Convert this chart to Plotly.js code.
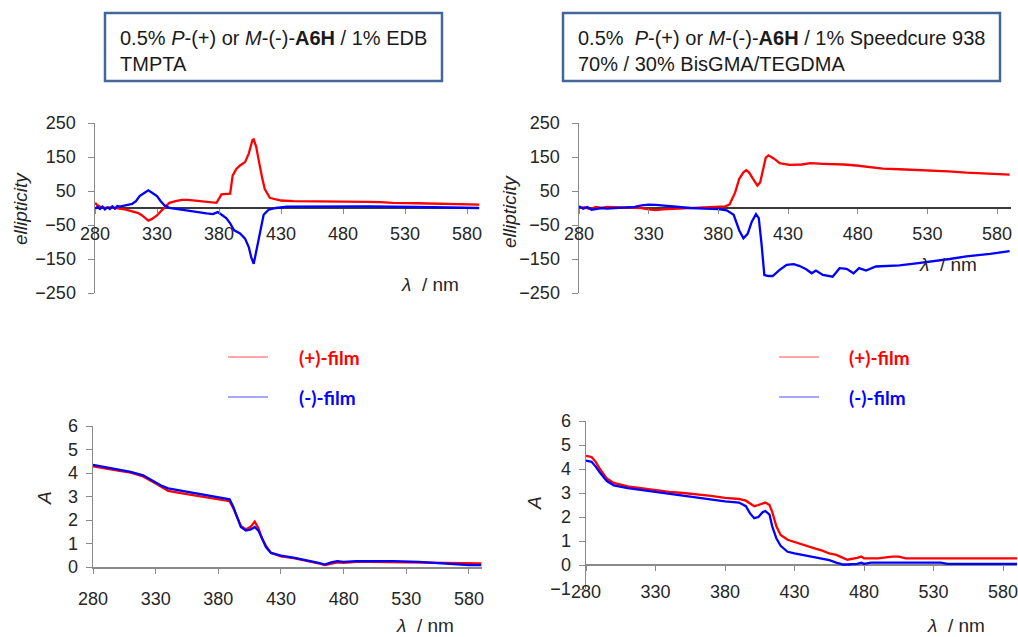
<!DOCTYPE html>
<html>
<head>
<meta charset="utf-8">
<script src="https://cdn.plot.ly/plotly-3.0.1.min.js"></script>
<style>html,body{margin:0;padding:0;background:#fff;}#chart{width:1018px;height:637px;}</style>
</head>
<body>
<div id="chart"></div>
<script>
// ---------------- DATA ----------------
const xTicks = [280, 330, 380, 430, 480, 530, 580];
const cdTicks = [-250, -150, -50, 50, 150, 250];
const absTicksL = [0, 1, 2, 3, 4, 5, 6];
const absTicksR = [-1, 0, 1, 2, 3, 4, 5, 6];
const seriesNames = ["(+)-film", "(-)-film"];

// Top-left CD (TMPTA / EDB)
const wlCdL_plus = [280,282,285,288,292,296,300,305,310,315,318,321,323,326,330,333,336,340,345,350,355,360,365,370,375,378,382,386,389,391,394,397,401,404,406,407,408,410,411,413,415,417,419,421,426,430,440,460,480,500,510,520,540,560,575,590];
const cdL_plus   = [15,8,2,0,2,-1,-2,-5,-10,-15,-22,-32,-37,-32,-22,-10,2,15,20,24,24,22,20,18,14,15,40,40,42,95,115,125,135,160,185,200,202,180,160,120,85,55,40,30,25,22,20,20,20,18,17,15,14,13,12,10];
const wlCdL_minus = [280,282,284,286,288,290,292,294,296,298,300,305,310,313,316,320,323,326,330,333,336,340,345,350,355,360,365,370,375,379,383,386,389,392,397,401,404,406,408,410,413,416,420,426,435,460,500,540,560,575,590];
const cdL_minus   = [-2,3,-3,4,-4,2,-3,5,-2,6,4,8,12,20,35,45,52,45,35,20,8,0,-3,-6,-8,-10,-14,-16,-18,-12,-22,-30,-45,-65,-75,-90,-115,-145,-164,-130,-70,-20,-5,0,4,5,5,3,2,1,0];

// Top-right CD (BisGMA/TEGDMA / Speedcure 938)
const wlCdR_plus = [280,284,288,292,296,300,310,320,325,330,335,340,350,360,370,380,385,388,392,395,398,400,402,405,408,410,412,414,416,420,424,431,440,446,455,462,470,479,488,498,510,529,545,558,575,589];
const cdR_plus   = [0,2,-3,3,0,3,2,2,0,-4,-6,-4,-2,0,0,2,5,10,45,86,105,111,105,85,66,75,115,148,155,145,132,127,128,132,130,130,128,125,120,116,114,111,108,104,101,98];
const wlCdR_minus = [280,283,286,289,292,296,300,310,320,325,330,335,340,350,360,370,380,386,391,395,398,401,404,407,409,411,413,416,419,424,429,434,438,443,447,450,455,462,467,472,477,481,486,493,500,510,522,534,546,558,575,589];
const cdR_minus   = [5,-2,3,-5,-3,0,-2,0,3,8,10,9,7,3,0,-2,-3,-7,-20,-66,-89,-76,-40,-18,-30,-106,-197,-200,-200,-182,-167,-165,-170,-180,-192,-184,-197,-202,-177,-179,-192,-177,-184,-172,-170,-169,-163,-157,-150,-142,-135,-127];

// Bottom-left absorbance
const wlAbsL = [280,290,300,310,320,330,335,340,350,360,370,380,386,389,392,395,398,402,406,409,412,415,418,422,430,440,450,460,465,470,475,480,490,500,520,540,560,570,580,590];
const absL_plus  = [4.28,4.18,4.10,4.02,3.85,3.55,3.38,3.24,3.14,3.06,2.98,2.87,2.83,2.80,2.50,2.10,1.75,1.60,1.72,1.93,1.65,1.20,0.90,0.60,0.45,0.38,0.28,0.15,0.08,0.15,0.20,0.18,0.22,0.22,0.20,0.18,0.15,0.15,0.15,0.15];
const absL_minus = [4.35,4.25,4.15,4.05,3.90,3.62,3.45,3.35,3.25,3.15,3.05,2.96,2.92,2.88,2.55,2.10,1.70,1.55,1.60,1.70,1.55,1.20,0.85,0.60,0.48,0.40,0.30,0.18,0.10,0.20,0.25,0.22,0.25,0.26,0.25,0.22,0.15,0.10,0.08,0.08];

// Bottom-right absorbance
const wlAbsR = [280,284,287,290,295,300,310,320,330,340,350,360,370,380,390,395,398,401,404,407,409,412,414,417,420,425,430,440,445,450,455,460,465,468,475,478,480,485,490,500,505,510,520,535,540,590];
const absR_plus  = [4.55,4.50,4.30,4.00,3.60,3.42,3.28,3.20,3.12,3.05,3.00,2.95,2.88,2.80,2.75,2.68,2.55,2.45,2.50,2.58,2.60,2.50,2.20,1.60,1.25,1.05,0.95,0.75,0.68,0.60,0.48,0.42,0.28,0.22,0.30,0.35,0.28,0.28,0.28,0.35,0.35,0.28,0.28,0.28,0.28,0.28];
const absR_minus = [4.35,4.30,4.10,3.85,3.50,3.32,3.20,3.12,3.03,2.95,2.88,2.80,2.72,2.65,2.60,2.45,2.15,1.95,2.00,2.20,2.25,2.10,1.60,1.10,0.80,0.55,0.48,0.38,0.30,0.28,0.20,0.10,0.02,0.02,0.05,0.10,0.05,0.10,0.10,0.10,0.10,0.10,0.10,0.10,0.05,0.05];

// ---------------- LAYOUT HELPERS ----------------
const W = 1018, H = 637;
const fx = p => p / W;
const fy = p => 1 - p / H;
const RED = "#ff0000", BLUE = "#0000ff";
const FONT = "Liberation Sans, Arial, sans-serif";
const tickFont = {family: FONT, size: 18, color: "#262626"};

function line(x, y, xa, ya, color, name) {
  return {x: x, y: y, xaxis: xa, yaxis: ya, type: "scatter", mode: "lines", name: name,
          line: {color: color, width: 2.3}, showlegend: false, hoverinfo: "skip"};
}
const data = [
  line(wlCdL_plus, cdL_plus, "x", "y", RED, seriesNames[0]),
  line(wlCdL_minus, cdL_minus, "x", "y", BLUE, seriesNames[1]),
  line(wlCdR_plus, cdR_plus, "x2", "y2", RED, seriesNames[0]),
  line(wlCdR_minus, cdR_minus, "x2", "y2", BLUE, seriesNames[1]),
  line(wlAbsL, absL_plus, "x3", "y3", RED, seriesNames[0]),
  line(wlAbsL, absL_minus, "x3", "y3", BLUE, seriesNames[1]),
  line(wlAbsR, absR_plus, "x4", "y4", RED, seriesNames[0]),
  line(wlAbsR, absR_minus, "x4", "y4", BLUE, seriesNames[1])
];

function xAxis(dom, extra) {
  return Object.assign({domain: dom, range: [280, 590], tickmode: "array", tickvals: xTicks,
    ticks: "outside", ticklen: 5, tickcolor: "#8a8a8a", tickwidth: 1, showgrid: false, zeroline: false,
    showline: false, tickfont: tickFont, fixedrange: true, ticklabeloverflow: "allow"}, extra);
}
function yAxis(dom, range, vals, extra) {
  return Object.assign({domain: dom, range: range, tickmode: "array", tickvals: vals,
    ticks: "outside", ticklen: 6, tickcolor: "#8a8a8a", tickwidth: 1, showgrid: false,
    showline: true, linecolor: "#8a8a8a", linewidth: 1.5, tickfont: tickFont, fixedrange: true,
    zeroline: false, ticklabelstandoff: 8}, extra);
}
const yTopDom = [fy(293), fy(123)];
const yBLDom = [fy(567), fy(426)];
const yBRDom = [fy(589), fy(421)];

const ann = [];
function addText(text, x, y, opts) {
  ann.push(Object.assign({text: text, xref: "paper", yref: "paper", x: fx(x), y: fy(y),
    xanchor: "center", yanchor: "middle",
    showarrow: false, font: {family: FONT, size: 19, color: "#262626"}}, opts || {}));
}
// axis titles
addText("<i>ellipticity</i>", 20, 209, {textangle: -90});
addText("<i>ellipticity</i>", 510, 212, {textangle: -90});
addText("<i>A</i>", 44, 498, {textangle: -90});
addText("<i>A</i>", 535, 503, {textangle: -90});
addText("<i>λ</i>  / nm", 430, 285);
addText("<i>λ</i>  / nm", 948, 265);
addText("<i>λ</i>  / nm", 425, 625);
addText("<i>λ</i>  / nm", 956, 625);
// boxed captions
addText("0.5% <i>P</i>-(+) or <i>M</i>-(-)-<b>A6H</b> / 1% EDB<br>TMPTA", 118, 51,
  {xanchor: "left", align: "left", font: {family: FONT, size: 20, color: "#1a1a1a"}});
addText("0.5%\u00a0 <i>P</i>-(+) or <i>M</i>-(-)-<b>A6H</b> / 1% Speedcure 938<br>70% / 30% BisGMA/TEGDMA", 576, 51,
  {xanchor: "left", align: "left", font: {family: FONT, size: 20, color: "#1a1a1a"}});
// legends
const legFont = c => ({family: "Lato, Liberation Sans, sans-serif", size: 19, color: c, weight: "bold"});
addText("<b>" + seriesNames[0] + "</b>", 297, 357, {xanchor: "left", font: legFont(RED)});
addText("<b>" + seriesNames[1] + "</b>", 297, 397, {xanchor: "left", font: legFont(BLUE)});
addText("<b>" + seriesNames[0] + "</b>", 847, 357, {xanchor: "left", font: legFont(RED)});
addText("<b>" + seriesNames[1] + "</b>", 847, 397, {xanchor: "left", font: legFont(BLUE)});

const shapes = [
  {type: "rect", xref: "paper", yref: "paper", x0: fx(105), x1: fx(442), y0: fy(81), y1: fy(13),
   line: {color: "#43679a", width: 2.5}, fillcolor: "rgba(0,0,0,0)"},
  {type: "rect", xref: "paper", yref: "paper", x0: fx(563), x1: fx(1000), y0: fy(81), y1: fy(13),
   line: {color: "#43679a", width: 2.5}, fillcolor: "rgba(0,0,0,0)"},
  {type: "line", xref: "paper", yref: "paper", x0: fx(228), x1: fx(268), y0: fy(357), y1: fy(357), line: {color: "#ff5050", width: 1}},
  {type: "line", xref: "paper", yref: "paper", x0: fx(228), x1: fx(268), y0: fy(397), y1: fy(397), line: {color: "#5050ff", width: 1}},
  {type: "line", xref: "paper", yref: "paper", x0: fx(779), x1: fx(819), y0: fy(357), y1: fy(357), line: {color: "#ff5050", width: 1}},
  {type: "line", xref: "paper", yref: "paper", x0: fx(779), x1: fx(819), y0: fy(397), y1: fy(397), line: {color: "#5050ff", width: 1}}
];

const layout = {
  width: W, height: H, margin: {l: 0, r: 0, t: 0, b: 0},
  paper_bgcolor: "#ffffff", plot_bgcolor: "rgba(0,0,0,0)", showlegend: false,
  xaxis: xAxis([fx(95), fx(479.4)], {anchor: "free", position: (yTopDom[0] + yTopDom[1]) / 2, ticklabelstandoff: 4}),
  yaxis: yAxis(yTopDom, [-250, 250], cdTicks, {anchor: "x", zeroline: true, zerolinecolor: "#3a3a3a", zerolinewidth: 1.2}),
  xaxis2: xAxis([fx(579), fx(1011)], {anchor: "free", position: (yTopDom[0] + yTopDom[1]) / 2, ticklabelstandoff: 4}),
  yaxis2: yAxis(yTopDom, [-250, 250], cdTicks, {anchor: "x2", zeroline: true, zerolinecolor: "#3a3a3a", zerolinewidth: 1.2}),
  xaxis3: xAxis([fx(93), fx(481.5)], {anchor: "y3", showline: true, linecolor: "#8a8a8a", linewidth: 1.5, ticklabelstandoff: 10}),
  yaxis3: yAxis(yBLDom, [0, 6], absTicksL, {anchor: "x3", ticklabelstandoff: 4}),
  xaxis4: xAxis([fx(586), fx(1017)], {anchor: "free", position: fy(565), ticklabelstandoff: 5}),
  yaxis4: yAxis(yBRDom, [-1, 6], absTicksR, {anchor: "x4", zeroline: true, zerolinecolor: "#8a8a8a", zerolinewidth: 1.5, ticklabelstandoff: 4}),
  annotations: ann, shapes: shapes
};
Plotly.newPlot("chart", data, layout, {staticPlot: true, displayModeBar: false});
</script>
</body>
</html>
